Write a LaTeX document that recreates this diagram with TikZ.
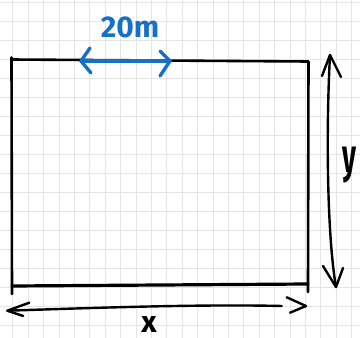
\documentclass[tikz,border=0pt]{standalone}
\usepackage{fontspec}
\setmainfont{Fira Sans}
\definecolor{gridgray}{HTML}{E4E4E4}
\definecolor{penblue}{HTML}{1670C6}
\tikzset{
  gridline/.style={draw=gridgray, line width=1pt},
  pen/.style={draw=black, line width=2.6pt, line cap=round, line join=round},
  bluepen/.style={draw=penblue, line width=3.4pt, line cap=round, line join=round},
  label/.style={inner sep=0pt, font=\fontsize{30}{30}\selectfont\bfseries},
}
\begin{document}
\begin{tikzpicture}[x=1pt,y=-1pt]
  \useasboundingbox (0,0) rectangle (360,338);
  \fill[white] (0,0) rectangle (360,338);
  \begin{scope}
    \clip (0,0) rectangle (360,338);
    % grid
    \foreach \i in {0,...,22} {
      \draw[gridline] ({12.9+15.4*\i},0) -- ({12.9+15.4*\i},338);
    }
    \foreach \j in {0,...,17} {
      \draw[gridline] (0,{2+19*\j}) -- (360,{2+19*\j});
    }
    % rectangle corners
    \coordinate (tl) at (12,59.5);
    \coordinate (tr) at (308.5,61.5);
    \coordinate (bl) at (12,286);
    \coordinate (br) at (308,284);
    \draw[pen] (tl) -- (tr);
    \draw[pen] (11.5,57.5) -- (12,294);
    \draw[pen] (308.5,62) -- (308,292);
    \draw[pen, line width=3.2pt] (bl) -- (br);
    % blue dimension arrow
    \coordinate (ba) at (81,61);
    \coordinate (bb) at (170,61);
    \draw[bluepen] (ba) -- (bb);
    \draw[bluepen] (90,48) -- (ba) -- (91,73);
    \draw[bluepen] (160,51) -- (bb) -- (160,76);
    \node[label, text=penblue] (lbl20) at (130,27) {20m};
    % y arrow
    \coordinate (ya) at (330,55);
    \coordinate (yb) at (336,287);
    \draw[pen, line width=2.4pt] (ya) .. controls (326,130) and (327,235) .. (yb);
    \draw[pen, line width=2.4pt] (322,76) -- (ya) -- (341,77);
    \draw[pen, line width=2.4pt] (323,266) -- (yb) -- (343,268);
    \node[label, anchor=base] (lbly) at (349,172) {\scalebox{0.9}[1.6]{y}};
    % x arrow
    \coordinate (xa) at (7.3,310.7);
    \coordinate (xe) at (281.7,306);
    \coordinate (xb) at (306,306);
    \draw[pen, line width=2.4pt] (xa) .. controls (90,308) and (200,304) .. (xe);
    \draw[pen, line width=2.4pt] (29.3,302.7) -- (xa) -- (23.3,316);
    \draw[pen, line width=2.4pt] (286.7,297.3) -- (xb) -- (290,312.7);
    \node[label] (lblx) at (149,325) {x};
  \end{scope}
\end{tikzpicture}
\end{document}
